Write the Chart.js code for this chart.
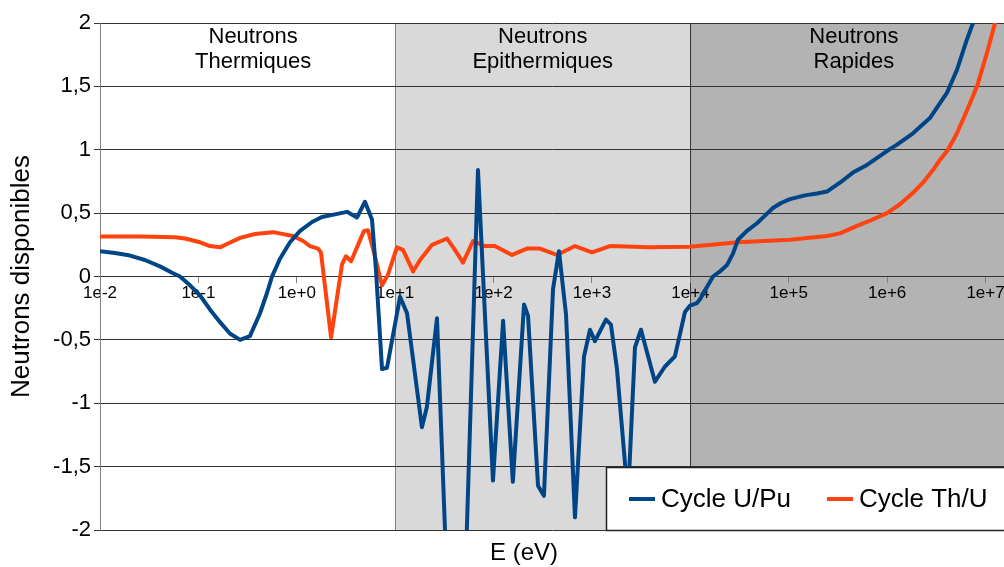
<!DOCTYPE html>
<html>
<head>
<meta charset="utf-8">
<script src="https://cdn.jsdelivr.net/npm/chart.js@4"></script>
<style>
  html, body { margin: 0; padding: 0; background: #fff; }
  #wrap { width: 1004px; height: 567px; }
</style>
</head>
<body>
<div id="wrap"><canvas id="neutronChart" width="1004" height="567"></canvas></div>
<script>
// energies in eV
const uPuEnergy = [0.01, 0.0142, 0.0202, 0.0286, 0.0407, 0.054, 0.065, 0.0822, 0.104, 0.131, 0.166, 0.209, 0.265, 0.334, 0.423, 0.498, 0.56, 0.675, 0.853, 1.08, 1.43, 1.80, 2.44, 3.24, 4.09, 4.93, 5.81, 6.38, 7.35, 8.26, 11.2, 13.2, 18.7, 21.0, 26.6, 42.5, 69.4, 98.6, 125, 157, 204, 224, 283, 325, 402, 462, 545, 672, 830, 955, 1072, 1387, 1560, 1795, 2323, 2735, 3148, 4365, 5521, 6966, 8810, 9908, 11670, 12530, 16980, 20000, 23550, 27100, 30480, 37600, 47530, 57300, 69020, 83400, 102800, 146200, 193600, 244300, 331100, 448700, 623700, 995400, 1.26e6, 1.83e6, 2.72e6, 4.06e6, 5.12e6, 6.47e6, 7.45e6, 9.86e6];
const uPuValues = [0.20, 0.185, 0.165, 0.13, 0.08, 0.03, 0.0, -0.07, -0.15, -0.26, -0.36, -0.45, -0.50, -0.47, -0.29, -0.13, 0.0, 0.14, 0.27, 0.36, 0.43, 0.47, 0.49, 0.51, 0.465, 0.59, 0.45, 0.05, -0.73, -0.72, -0.16, -0.29, -1.19, -1.03, -0.33, -4.5, 0.84, -1.61, -0.35, -1.62, -0.22, -0.31, -1.65, -1.73, -0.10, 0.20, -0.30, -1.90, -0.63, -0.42, -0.51, -0.34, -0.38, -0.73, -1.75, -0.56, -0.42, -0.83, -0.71, -0.63, -0.28, -0.23, -0.21, -0.18, 0.0, 0.04, 0.09, 0.18, 0.29, 0.36, 0.42, 0.48, 0.54, 0.58, 0.61, 0.64, 0.655, 0.67, 0.74, 0.82, 0.88, 0.99, 1.04, 1.13, 1.25, 1.45, 1.63, 1.87, 2.0, 2.4];

const thUEnergy = [0.01, 0.0255, 0.0578, 0.0731, 0.104, 0.131, 0.166, 0.2, 0.265, 0.376, 0.573, 0.914, 1.16, 1.36, 1.64, 1.76, 2.23, 2.88, 3.16, 3.56, 4.82, 5.29, 6.09, 7.35, 8.45, 10.4, 12.0, 15.2, 17.9, 23.7, 33.6, 40.5, 48.9, 61.8, 81.8, 103, 154, 218, 296, 441, 672, 1000, 1524, 3882, 9908, 30480, 102800, 244300, 331100, 493200, 668300, 995400, 1.35e6, 1.83e6, 2.31e6, 2.92e6, 3.44e6, 4.15e6, 5.12e6, 6.47e6, 8.19e6, 9.19e6, 1.03e7, 1.19e7, 1.54e7];
const thUValues = [0.315, 0.315, 0.31, 0.30, 0.27, 0.24, 0.23, 0.26, 0.305, 0.335, 0.35, 0.32, 0.28, 0.24, 0.22, 0.19, -0.48, 0.095, 0.16, 0.12, 0.36, 0.365, 0.19, -0.07, 0.015, 0.23, 0.21, 0.04, 0.13, 0.25, 0.30, 0.21, 0.11, 0.28, 0.24, 0.24, 0.17, 0.22, 0.22, 0.17, 0.24, 0.19, 0.24, 0.23, 0.235, 0.27, 0.29, 0.32, 0.34, 0.40, 0.44, 0.50, 0.57, 0.66, 0.74, 0.84, 0.92, 1.0, 1.13, 1.31, 1.50, 1.63, 1.76, 1.94, 2.27];

const xTicks = [1e-2, 1e-1, 1e0, 1e1, 1e2, 1e3, 1e4, 1e5, 1e6, 1e7];
const zoneLimits = [10, 1e4];
const zoneLabels = [['Neutrons', 'Thermiques'], ['Neutrons', 'Epithermiques'], ['Neutrons', 'Rapides']];
const zoneLabelAt = [0.36, 316, 4.6e5];
const seriesNames = ['Cycle U/Pu', 'Cycle Th/U'];

const FONT = '"Liberation Sans", Arial, sans-serif';
const BLUE = '#004586';
const ORANGE = '#ff420e';

const toPoints = (xs, ys) => xs.map((e, i) => ({ x: e, y: ys[i] }));

function expLabel(v) {
    const p = Math.round(Math.log10(v));
    return '1e' + (p < 0 ? '-' : '+') + Math.abs(p);
}

const zonesPlugin = {
    id: 'zones',
    beforeDraw(chart) {
        const { ctx, chartArea: a, scales: { x } } = chart;
        const x1 = Math.round(x.getPixelForValue(zoneLimits[0]));
        const x2 = Math.round(x.getPixelForValue(zoneLimits[1]));
        ctx.save();
        ctx.fillStyle = '#fff';
        ctx.fillRect(0, 0, chart.width, chart.height);
        ctx.fillStyle = '#d9d9d9';
        ctx.fillRect(x1, a.top, x2 - x1, a.bottom - a.top);
        ctx.fillStyle = '#b3b3b3';
        ctx.fillRect(x2, a.top, a.right - x2, a.bottom - a.top);
        ctx.lineWidth = 1;
        ctx.strokeStyle = '#808080';
        ctx.beginPath();
        ctx.moveTo(x1 + 0.5, a.top);
        ctx.lineTo(x1 + 0.5, a.bottom);
        ctx.stroke();
        ctx.strokeStyle = '#333';
        ctx.beginPath();
        ctx.moveTo(x2 + 0.5, a.top);
        ctx.lineTo(x2 + 0.5, a.bottom);
        ctx.stroke();
        ctx.restore();
    },
    beforeDatasetsDraw(chart) {
        const { ctx, scales: { x } } = chart;
        ctx.save();
        ctx.font = '22px ' + FONT;
        ctx.fillStyle = '#000';
        ctx.textAlign = 'center';
        ctx.textBaseline = 'middle';
        zoneLabels.forEach((lines, i) => {
            const cx = x.getPixelForValue(zoneLabelAt[i]);
            lines.forEach((t, j) => ctx.fillText(t, cx, 37 + j * 25));
        });
        ctx.restore();
    },
    afterDraw(chart) {
        const { ctx, chartArea: a } = chart;
        ctx.save();
        // x axis title
        ctx.font = '24px ' + FONT;
        ctx.fillStyle = '#000';
        ctx.textAlign = 'center';
        ctx.textBaseline = 'middle';
        ctx.fillText('E (eV)', 524, 553);

        // legend box over the plot
        const top = a.bottom - 63;
        ctx.fillStyle = '#fff';
        ctx.fillRect(606, top, chart.width - 606, 63);
        ctx.strokeStyle = '#222';
        ctx.lineWidth = 1.5;
        ctx.strokeRect(606.5, top + 0.5, chart.width, 63);
        const cy = top + 32;
        const items = [
            { name: seriesNames[0], color: BLUE, x: 629 },
            { name: seriesNames[1], color: ORANGE, x: 827 }
        ];
        ctx.font = '26px ' + FONT;
        ctx.textAlign = 'left';
        items.forEach(it => {
            ctx.strokeStyle = it.color;
            ctx.lineWidth = 4;
            ctx.beginPath();
            ctx.moveTo(it.x, cy);
            ctx.lineTo(it.x + 26, cy);
            ctx.stroke();
            ctx.fillStyle = '#000';
            ctx.fillText(it.name, it.x + 32, cy + 1);
        });
        ctx.restore();
    }
};

new Chart(document.getElementById('neutronChart'), {
    type: 'line',
    data: {
        datasets: [
            {
                label: seriesNames[0],
                data: toPoints(uPuEnergy, uPuValues),
                borderColor: BLUE,
                borderWidth: 4,
                borderJoinStyle: 'round',
                pointRadius: 0,
                tension: 0
            },
            {
                label: seriesNames[1],
                data: toPoints(thUEnergy, thUValues),
                borderColor: ORANGE,
                borderWidth: 4,
                borderJoinStyle: 'round',
                pointRadius: 0,
                tension: 0
            }
        ]
    },
    options: {
        responsive: false,
        animation: false,
        layout: { padding: { top: 23, bottom: 37, left: 0, right: 0 } },
        plugins: {
            legend: { display: false },
            tooltip: { enabled: false }
        },
        scales: {
            x: {
                type: 'logarithmic',
                position: { y: 0 },
                min: 0.01,
                max: 1.54e7,
                afterBuildTicks: axis => { axis.ticks = xTicks.map(v => ({ value: v })); },
                afterFit: axis => { axis.paddingLeft = 0; axis.paddingRight = 0; },
                grid: { display: true, drawOnChartArea: false, drawTicks: true, tickLength: 6, color: '#808080' },
                border: { display: false },
                ticks: {
                    autoSkip: false,
                    maxRotation: 0,
                    padding: 1,
                    color: '#000',
                    font: { family: FONT, size: 17 },
                    callback: v => expLabel(v)
                }
            },
            y: {
                min: -2,
                max: 2,
                afterFit: axis => { axis.width = 100; },
                grid: { color: '#333', tickLength: 6 },
                border: { color: '#808080' },
                ticks: {
                    stepSize: 0.5,
                    padding: 3,
                    color: '#000',
                    font: { family: FONT, size: 22 },
                    callback: v => String(v).replace('.', ',')
                },
                title: {
                    display: true,
                    text: 'Neutrons disponibles',
                    color: '#000',
                    font: { family: FONT, size: 26 },
                    padding: { top: 6, bottom: 0 }
                }
            }
        }
    },
    plugins: [zonesPlugin]
});
</script>
</body>
</html>
